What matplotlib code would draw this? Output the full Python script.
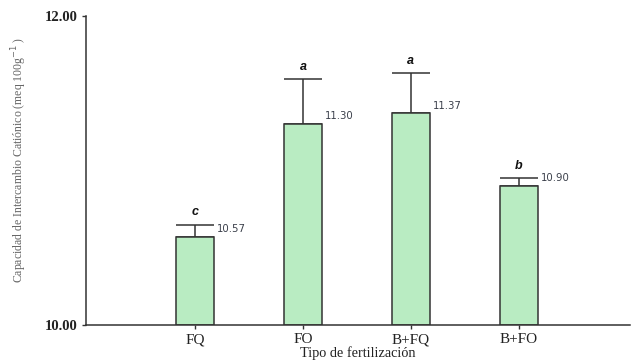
import matplotlib
matplotlib.use("Agg")
import matplotlib.pyplot as plt
import numpy as np

categories = ["FQ", "FO", "B+FQ", "B+FO"]
values = [10.57, 11.30, 11.37, 10.90]
errors = [0.08, 0.29, 0.26, 0.05]
letters = ["c", "a", "a", "b"]
value_labels = ["10.57", "11.30", "11.37", "10.90"]

fig = plt.figure(figsize=(6.32, 3.61), dpi=100)
ax = fig.add_axes([0.136, 0.0997, 0.861, 0.856])

x = np.arange(len(categories))
ax.bar(x, [v - 10 for v in values], bottom=10, width=0.35,
       color="#b9ecc2", edgecolor="#333333", linewidth=1.1, zorder=2)
ax.errorbar(x, values, yerr=[[0] * len(errors), errors], fmt="none",
            ecolor="#333333", elinewidth=1.1, capsize=13.5, capthick=1.1, zorder=1)

for xi, v, e, let, lab in zip(x, values, errors, letters, value_labels):
    ax.text(xi, v + e + 0.04, let, ha="center", va="bottom",
            fontsize=9, fontweight="bold", fontstyle="italic",
            family="Liberation Sans", color="#111111")
    ax.text(xi + 0.2, v + 0.05, lab, ha="left", va="center",
            fontsize=7.3, family="DejaVu Sans", color="#3a3f4a")

ax.set_xlim(-1.01, 4.03)
ax.set_ylim(10, 12)
ax.set_yticks([10, 12])
ax.set_yticklabels(["10.00", "12.00"], family="Liberation Serif",
                   fontsize=10.5, fontweight="bold", color="#222222")
ax.set_xticks(x)
ax.set_xticklabels(categories, family="Liberation Serif", fontsize=11, color="#222222")
ax.tick_params(axis="both", direction="out", length=3, width=1, color="#333333", pad=3)

for s in ["top", "right"]:
    ax.spines[s].set_visible(False)
for s in ["left", "bottom"]:
    ax.spines[s].set_color("#333333")
    ax.spines[s].set_linewidth(1.1)

ax.set_xlabel("Tipo de fertilización", family="Liberation Serif",
              fontsize=10.3, color="#222222", labelpad=0)
ax.set_ylabel("Capacidad de Intercambio Catiónico (meq 100g$^{-1}$ )",
              family="Liberation Serif", fontsize=8.5, color="#666666")
ax.yaxis.set_label_coords(-0.105, 0.535)

fig.savefig("out.png", dpi=100)
